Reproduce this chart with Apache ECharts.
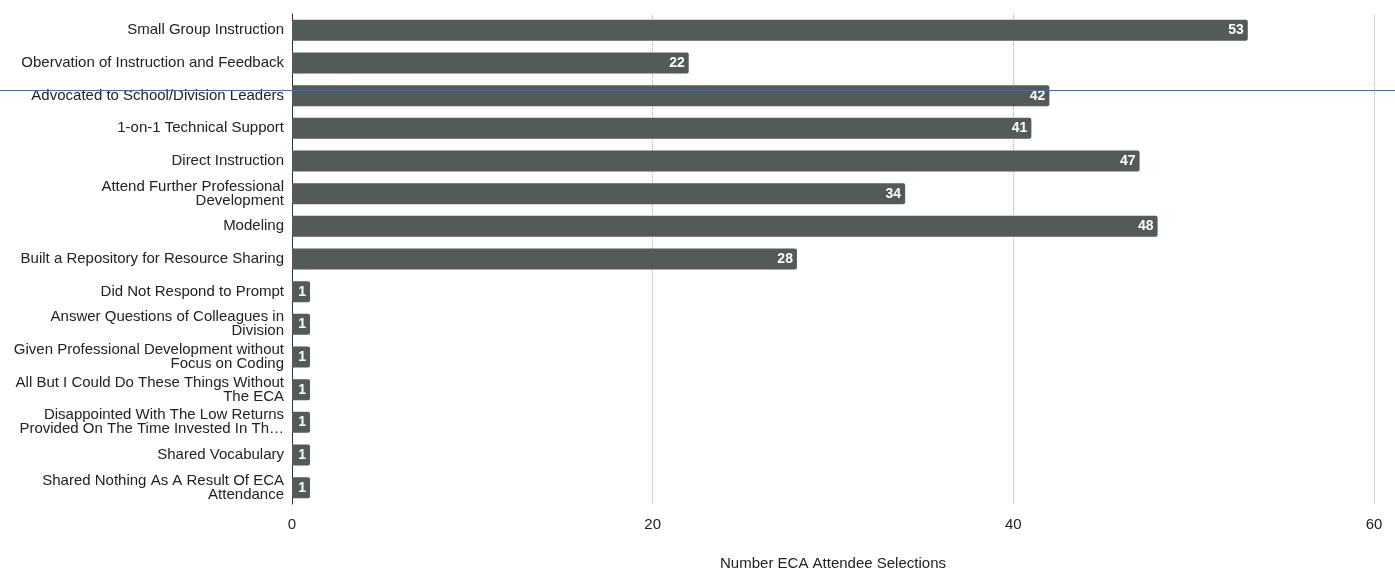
<!DOCTYPE html>
<html>
<head>
<meta charset="utf-8">
<script src="https://cdn.jsdelivr.net/npm/echarts@6/dist/echarts.min.js"></script>
<style>
  html, body { margin: 0; padding: 0; background: #ffffff; }
  #chart { width: 1395px; height: 571px; }
</style>
</head>
<body>
<div id="chart"></div>
<script>
// Activities reported by ECA attendees (top to bottom)
const categories = [
  'Small Group Instruction',
  'Obervation of Instruction and Feedback',
  'Advocated to School/Division Leaders',
  '1-on-1 Technical Support',
  'Direct Instruction',
  'Attend Further Professional\nDevelopment',
  'Modeling',
  'Built a Repository for Resource Sharing',
  'Did Not Respond to Prompt',
  'Answer Questions of Colleagues in\nDivision',
  'Given Professional Development without\nFocus on Coding',
  'All But I Could Do These Things Without\nThe ECA',
  'Disappointed With The Low Returns\nProvided On The Time Invested In Th\u2026',
  'Shared Vocabulary',
  'Shared Nothing As A Result Of ECA\nAttendance'
];
const selections = [53, 22, 42, 41, 47, 34, 48, 28, 1, 1, 1, 1, 1, 1, 1];
const xTicks = [0, 20, 40, 60];
const axisTitle = 'Number ECA Attendee Selections';

const chart = echarts.init(document.getElementById('chart'), null, { renderer: 'canvas' });
const fontFamily = 'Liberation Sans, Arial, sans-serif';

chart.setOption({
  animation: false,
  backgroundColor: '#ffffff',
  grid: {
    left: 292, right: 21, top: 14, bottom: 67,
    containLabel: false, outerBoundsMode: 'none'
  },
  xAxis: {
    type: 'value',
    min: xTicks[0],
    max: xTicks[xTicks.length - 1],
    interval: 20,
    name: axisTitle,
    nameLocation: 'middle',
    nameGap: 52,
    nameTextStyle: { color: '#222', fontSize: 15, fontFamily },
    axisLine: { show: false },
    axisTick: { show: false },
    axisLabel: { color: '#222', fontSize: 15, fontFamily, margin: 13 },
    splitLine: { show: true, lineStyle: { color: '#b0b0b0', type: 'dotted', width: 1 } }
  },
  yAxis: {
    type: 'category',
    data: categories,
    inverse: true,
    axisLine: { show: true, lineStyle: { color: '#333', width: 1 } },
    axisTick: { show: false },
    axisLabel: {
      color: '#222', fontSize: 15, fontFamily, margin: 8,
      lineHeight: 14, align: 'right'
    },
    splitLine: { show: false }
  },
  series: [{
    type: 'bar',
    data: selections,
    barWidth: 21,
    itemStyle: { color: '#535a59', borderRadius: [0, 2, 2, 0] },
    label: {
      show: true,
      position: 'insideRight',
      distance: 4,
      color: '#ffffff',
      fontSize: 14,
      fontWeight: 'bold',
      fontFamily
    }
  }],
  graphic: [{
    type: 'line',
    shape: { x1: 0, y1: 90.5, x2: 1395, y2: 90.5 },
    style: { stroke: '#2f6fe0', lineWidth: 1 },
    z: 100
  }]
});
</script>
</body>
</html>
